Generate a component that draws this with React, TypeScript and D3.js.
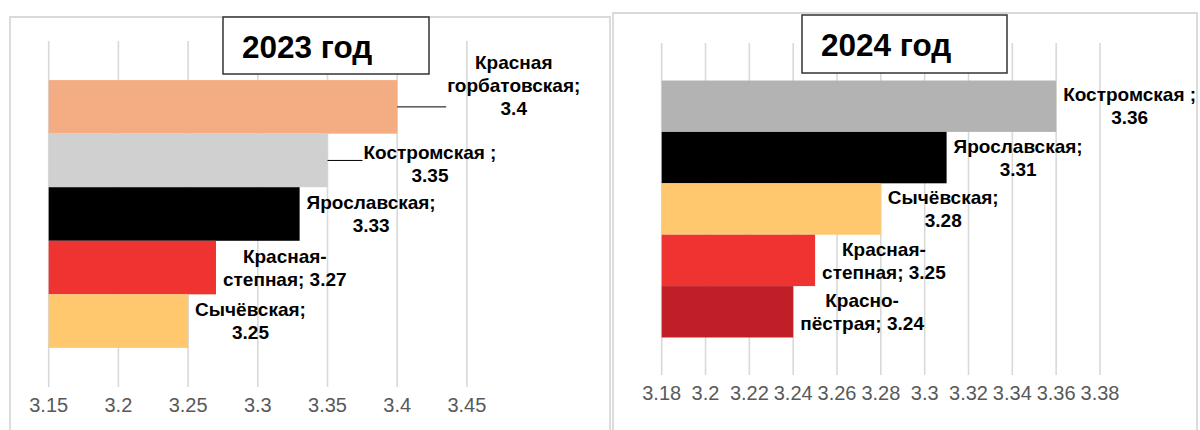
import React, { useEffect, useRef } from "react";
import * as d3 from "d3";

// 2023 — average milk fat by breed
const breeds2023 = ["Красная горбатовская", "Костромская", "Ярославская", "Красная-степная", "Сычёвская"];
const values2023 = [3.4, 3.35, 3.33, 3.27, 3.25];
const labelLines2023 = [
  ["Красная", "горбатовская;", "{v}"],
  ["Костромская ;", "{v}"],
  ["Ярославская;", "{v}"],
  ["Красная-", "степная; {v}"],
  ["Сычёвская;", "{v}"],
];
const colors2023 = ["#F4AD83", "#D0D0D0", "#000000", "#EE3331", "#FFC86E"];
const ticks2023 = [3.15, 3.2, 3.25, 3.3, 3.35, 3.4, 3.45];

// 2024
const breeds2024 = ["Костромская", "Ярославская", "Сычёвская", "Красная-степная", "Красно-пёстрая"];
const values2024 = [3.36, 3.31, 3.28, 3.25, 3.24];
const labelLines2024 = [
  ["Костромская ;", "{v}"],
  ["Ярославская;", "{v}"],
  ["Сычёвская;", "{v}"],
  ["Красная-", "степная; {v}"],
  ["Красно-", "пёстрая; {v}"],
];
const colors2024 = ["#B3B3B3", "#000000", "#FFC86E", "#EE3331", "#C11F27"];
const ticks2024 = [3.18, 3.2, 3.22, 3.24, 3.26, 3.28, 3.3, 3.32, 3.34, 3.36, 3.38];

type Placement = { dx: number; dy: number; leader: boolean } | null;

interface Panel {
  title: string;
  breeds: string[];
  values: number[];
  lines: string[][];
  colors: string[];
  ticks: number[];
  placements: Placement[];
  frame: { x0: number; y0: number; x1: number };
  titleBox: { x: number; y: number; w: number; h: number };
  xRange: [number, number];
  gridTop: number;
  gridBottom: number;
  tickY: number;
}

const FONT = "'Liberation Sans', Arial, sans-serif";

const panels: Panel[] = [
  {
    title: "2023 год",
    breeds: breeds2023,
    values: values2023,
    lines: labelLines2023,
    colors: colors2023,
    ticks: ticks2023,
    placements: [
      { dx: 50, dy: -22, leader: true },
      { dx: 36, dy: 3, leader: true },
      null,
      null,
      null,
    ],
    frame: { x0: 10, y0: 17, x1: 610 },
    titleBox: { x: 223, y: 17, w: 206, h: 57 },
    xRange: [48.7, 466.9],
    gridTop: 41,
    gridBottom: 387,
    tickY: 405,
  },
  {
    title: "2024 год",
    breeds: breeds2024,
    values: values2024,
    lines: labelLines2024,
    colors: colors2024,
    ticks: ticks2024,
    placements: [null, null, null, null, null],
    frame: { x0: 613, y0: 13, x1: 1197 },
    titleBox: { x: 802, y: 15, w: 205, h: 58 },
    xRange: [661.7, 1100],
    gridTop: 43,
    gridBottom: 375,
    tickY: 393,
  },
];

function drawPanel(root: d3.Selection<SVGGElement, unknown, null, undefined>, p: Panel) {
  const g = root.append("g");
  const domain: [number, number] = [p.ticks[0], p.ticks[p.ticks.length - 1]];
  const x = d3.scaleLinear().domain(domain).range(p.xRange);
  const y = d3
    .scaleBand<string>()
    .domain(p.breeds)
    .range([p.gridTop, p.gridBottom])
    .paddingInner(0)
    .paddingOuter(0.73);

  // chart area frame (bottom edge runs off the page)
  g.append("path")
    .attr("d", `M${p.frame.x0},440 V${p.frame.y0} H${p.frame.x1} V440`)
    .attr("fill", "none")
    .attr("stroke", "#D9D9D9")
    .attr("stroke-width", 1.8);

  // vertical gridlines
  g.selectAll("line.grid")
    .data(p.ticks)
    .join("line")
    .attr("class", "grid")
    .attr("x1", (d) => x(d))
    .attr("x2", (d) => x(d))
    .attr("y1", p.gridTop)
    .attr("y2", p.gridBottom)
    .attr("stroke", "#D9D9D9")
    .attr("stroke-width", 1.6);

  // tick labels
  g.selectAll("text.tick")
    .data(p.ticks)
    .join("text")
    .attr("class", "tick")
    .attr("x", (d) => x(d))
    .attr("y", p.tickY)
    .attr("dy", "0.35em")
    .attr("text-anchor", "middle")
    .attr("font-family", FONT)
    .attr("font-size", 20)
    .attr("fill", "#595959")
    .text((d) => String(d));

  // bars
  g.selectAll("rect.bar")
    .data(p.values)
    .join("rect")
    .attr("class", "bar")
    .attr("x", x(domain[0]))
    .attr("y", (_, i) => y(p.breeds[i]) as number)
    .attr("width", (d) => x(d) - x(domain[0]))
    .attr("height", y.bandwidth())
    .attr("fill", (_, i) => p.colors[i]);

  // data labels
  const lineH = 23;
  p.values.forEach((v, i) => {
    const texts = p.lines[i].map((s) => s.replace("{v}", String(v)));
    const end = x(v);
    const cy = (y(p.breeds[i]) as number) + y.bandwidth() / 2;
    const pl = p.placements[i];
    const dx = pl ? pl.dx : 7;
    const dy = pl ? pl.dy : 0;
    const lg = g.append("g");
    const tEls = texts.map((s) =>
      lg
        .append("text")
        .attr("font-family", FONT)
        .attr("font-size", 19)
        .attr("font-weight", "bold")
        .attr("fill", "#000")
        .attr("text-anchor", "middle")
        .attr("dy", "0.35em")
        .text(s)
    );
    const widths = tEls.map((t) => (t.node() as SVGTextElement).getComputedTextLength());
    const boxW = Math.max(...widths);
    const centerX = end + dx + boxW / 2;
    const top = cy + dy - ((texts.length - 1) * lineH) / 2;
    tEls.forEach((t, k) => t.attr("x", centerX).attr("y", top + k * lineH));
    if (pl && pl.leader) {
      g.append("line")
        .attr("x1", end)
        .attr("x2", end + dx - 1)
        .attr("y1", cy)
        .attr("y2", cy)
        .attr("stroke", "#000")
        .attr("stroke-width", 1);
    }
  });

  // title box
  g.append("rect")
    .attr("x", p.titleBox.x)
    .attr("y", p.titleBox.y)
    .attr("width", p.titleBox.w)
    .attr("height", p.titleBox.h)
    .attr("fill", "#fff")
    .attr("stroke", "#333")
    .attr("stroke-width", 1.5);
  g.append("text")
    .attr("x", p.titleBox.x + 19)
    .attr("y", p.titleBox.y + p.titleBox.h / 2 + 1)
    .attr("dy", "0.35em")
    .attr("font-family", FONT)
    .attr("font-size", 31.5)
    .attr("font-weight", "bold")
    .attr("fill", "#000")
    .text(p.title);
}

export default function App() {
  const ref = useRef<SVGSVGElement>(null);
  useEffect(() => {
    const svg = d3.select(ref.current);
    svg.selectAll("*").remove();
    const root = svg.append("g");
    panels.forEach((p) => drawPanel(root as any, p));
  }, []);
  return (
    <>
      <style>{`body{margin:0;background:#fff}`}</style>
      <svg ref={ref} width={1200} height={430} style={{ display: "block", background: "#fff" }} />
    </>
  );
}
